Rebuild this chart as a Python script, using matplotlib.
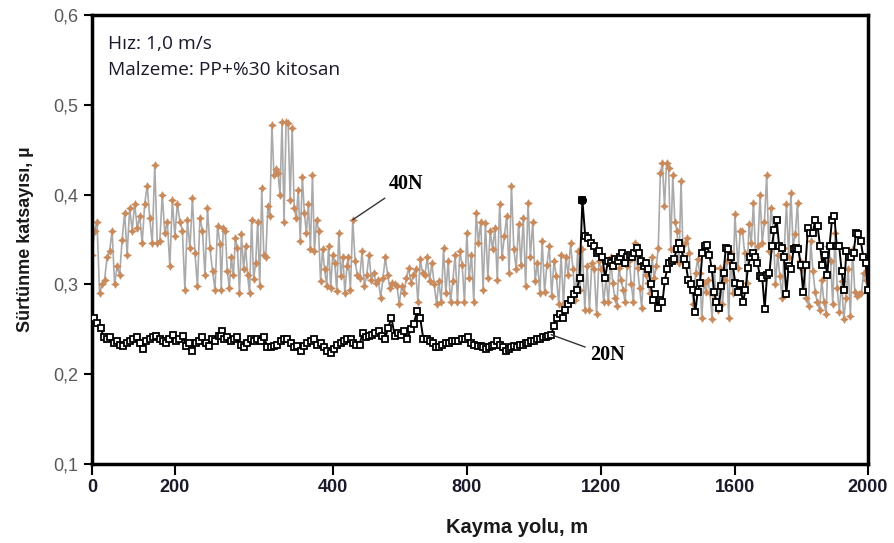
import numpy as np
import matplotlib
matplotlib.use("Agg")
import matplotlib.pyplot as plt

# Friction coefficient vs sliding distance, PP + 30% chitosan at 1.0 m/s

# 40N run, six consecutive stretches of the test (values of mu)
mu40_a = [0.333, 0.360, 0.370, 0.290, 0.300, 0.305, 0.330, 0.337, 0.360, 0.300,
          0.320, 0.310, 0.350, 0.380, 0.333, 0.385, 0.360, 0.390, 0.363, 0.376,
          0.346, 0.390, 0.410, 0.374, 0.346, 0.433, 0.346, 0.348, 0.400, 0.357,
          0.370, 0.320, 0.394, 0.354, 0.390, 0.370, 0.360, 0.294, 0.372, 0.340,
          0.396, 0.335, 0.298, 0.374, 0.360, 0.310, 0.385, 0.340, 0.315, 0.294,
          0.365, 0.345]
mu40_b = [0.294, 0.363, 0.360, 0.315, 0.296, 0.330, 0.310, 0.352, 0.340, 0.290,
          0.356, 0.317, 0.343, 0.310, 0.290, 0.372, 0.306, 0.324, 0.370, 0.298,
          0.407, 0.333, 0.331, 0.387, 0.376, 0.478, 0.422, 0.428, 0.424, 0.400,
          0.481, 0.370, 0.481, 0.480, 0.394, 0.474, 0.385, 0.374, 0.405, 0.348,
          0.420, 0.380, 0.357, 0.390, 0.339, 0.422, 0.337, 0.372, 0.360, 0.304,
          0.339, 0.317, 0.298, 0.343, 0.296, 0.333, 0.324, 0.293, 0.357, 0.309,
          0.331, 0.290, 0.320]
mu40_c = [0.330, 0.294, 0.372, 0.326, 0.310, 0.307, 0.337, 0.298, 0.310, 0.333,
          0.305, 0.313, 0.302, 0.305, 0.285, 0.307, 0.330, 0.310, 0.296, 0.302,
          0.300, 0.298, 0.278, 0.298, 0.290, 0.307, 0.318, 0.302, 0.310, 0.317,
          0.280, 0.328, 0.313, 0.310, 0.330, 0.304, 0.324, 0.300, 0.278, 0.304,
          0.280, 0.340, 0.290, 0.326, 0.280, 0.304, 0.333, 0.280, 0.337, 0.322,
          0.280, 0.357, 0.307, 0.333, 0.280, 0.380, 0.346, 0.370]
mu40_d = [0.294, 0.368, 0.307, 0.360, 0.339, 0.363, 0.305, 0.390, 0.330, 0.354,
          0.376, 0.313, 0.410, 0.339, 0.317, 0.367, 0.322, 0.374, 0.298, 0.391,
          0.331, 0.370, 0.304, 0.324, 0.290, 0.348, 0.292, 0.322, 0.343, 0.287,
          0.326, 0.309, 0.278, 0.333, 0.278, 0.331, 0.310, 0.346, 0.317, 0.283,
          0.337, 0.294, 0.339, 0.272, 0.320, 0.272, 0.324, 0.317, 0.267, 0.326,
          0.317, 0.280, 0.307, 0.280, 0.330]
mu40_e = [0.302, 0.285, 0.276, 0.318, 0.305, 0.294, 0.280, 0.320, 0.326, 0.300,
          0.280, 0.346, 0.318, 0.296, 0.274, 0.320, 0.310, 0.302, 0.290, 0.331,
          0.307, 0.320, 0.340, 0.424, 0.435, 0.387, 0.435, 0.430, 0.339, 0.422,
          0.370, 0.360, 0.324, 0.415, 0.331, 0.346, 0.352, 0.335, 0.298, 0.278,
          0.313, 0.328, 0.313, 0.263, 0.302, 0.292, 0.305, 0.290, 0.261, 0.318,
          0.280, 0.272, 0.318, 0.278, 0.305, 0.326, 0.263, 0.335, 0.290, 0.378]
mu40_f = [0.318, 0.360, 0.360, 0.335, 0.302, 0.367, 0.346, 0.391, 0.331, 0.343,
          0.400, 0.346, 0.370, 0.422, 0.337, 0.385, 0.361, 0.300, 0.333, 0.309,
          0.285, 0.340, 0.389, 0.330, 0.402, 0.343, 0.356, 0.391, 0.326, 0.317,
          0.320, 0.285, 0.276, 0.348, 0.315, 0.292, 0.280, 0.272, 0.305, 0.280,
          0.267, 0.343, 0.326, 0.278, 0.357, 0.296, 0.269, 0.304, 0.261, 0.285,
          0.317, 0.265, 0.339, 0.292, 0.287, 0.289, 0.290, 0.313, 0.305, 0.292]
# start / end distance (m) of each stretch
span40 = [(0, 330), (333, 657), (660, 1002), (1008, 1337), (1342, 1657), (1665, 2000)]

# 20N run
mu20_a = [0.263, 0.257, 0.252, 0.241, 0.239, 0.241, 0.235, 0.237, 0.233, 0.231,
          0.235, 0.237, 0.239, 0.241, 0.235, 0.228, 0.237, 0.239, 0.241, 0.243,
          0.239, 0.237, 0.235, 0.239, 0.244, 0.237, 0.239, 0.243, 0.231, 0.235,
          0.226, 0.235, 0.237, 0.241, 0.235, 0.231, 0.239, 0.237, 0.243, 0.248]
mu20_b = [0.243, 0.239, 0.241, 0.237, 0.239, 0.241, 0.233, 0.230, 0.235, 0.239,
          0.237, 0.239, 0.237, 0.241, 0.230, 0.230, 0.231, 0.233, 0.237, 0.239,
          0.239, 0.235, 0.230, 0.231, 0.226, 0.231, 0.235, 0.237, 0.239, 0.233,
          0.235, 0.230, 0.226, 0.224, 0.228, 0.233, 0.235, 0.237, 0.239, 0.239]
mu20_c = [0.235, 0.233, 0.233, 0.246, 0.241, 0.243, 0.244, 0.246, 0.248, 0.243,
          0.239, 0.252, 0.263, 0.243, 0.246, 0.244, 0.248, 0.239, 0.250, 0.256,
          0.270, 0.263, 0.239, 0.239, 0.237, 0.235, 0.230, 0.230, 0.233, 0.235,
          0.235, 0.237, 0.237, 0.237, 0.239, 0.239, 0.241, 0.235, 0.233, 0.231,
          0.231]
mu20_d = [0.230, 0.228, 0.230, 0.231, 0.233, 0.237, 0.233, 0.230, 0.226, 0.228,
          0.230, 0.231, 0.230, 0.233, 0.233, 0.235, 0.235, 0.237, 0.237, 0.239,
          0.239, 0.241, 0.241, 0.243, 0.244, 0.254, 0.263, 0.267, 0.263, 0.272,
          0.278, 0.283, 0.289, 0.294, 0.307, 0.394, 0.354, 0.352, 0.346, 0.343,
          0.335, 0.337, 0.331, 0.307, 0.326, 0.324]
mu20_e = [0.320, 0.328, 0.326, 0.331, 0.335, 0.324, 0.331, 0.333, 0.330, 0.335,
          0.341, 0.335, 0.326, 0.320, 0.324, 0.317, 0.300, 0.283, 0.289, 0.274,
          0.283, 0.280, 0.304, 0.317, 0.324, 0.326, 0.328, 0.339, 0.346, 0.339,
          0.328, 0.322, 0.305, 0.300, 0.294, 0.269, 0.292, 0.302, 0.335, 0.343,
          0.344, 0.333, 0.317, 0.291, 0.280, 0.274, 0.298, 0.313, 0.341, 0.339,
          0.331, 0.320, 0.302, 0.292, 0.300]
mu20_f = [0.280, 0.294, 0.318, 0.331, 0.335, 0.331, 0.324, 0.309, 0.307, 0.273,
          0.311, 0.313, 0.343, 0.361, 0.372, 0.343, 0.341, 0.331, 0.289, 0.320,
          0.317, 0.339, 0.341, 0.339, 0.322, 0.292, 0.322, 0.363, 0.357, 0.357,
          0.372, 0.365, 0.343, 0.322, 0.333, 0.310, 0.343, 0.372, 0.376, 0.343,
          0.343, 0.315, 0.294, 0.337, 0.331, 0.330, 0.335, 0.357, 0.356, 0.348,
          0.331, 0.324, 0.294]
span20 = [(5, 335), (332, 667), (673, 1002), (1008, 1337), (1343, 1670), (1678, 2000)]

x_ticks = [0, 213, 620, 966, 1311, 1658, 2000]
x_ticklabels = ["0", "200", "400", "800", "1200", "1600", "2000"]
y_ticks = [0.1, 0.2, 0.3, 0.4, 0.5, 0.6]
y_ticklabels = ["0,1", "0,2", "0,3", "0,4", "0,5", "0,6"]


def join(chunks, spans):
    xs = [np.linspace(a, b, len(c)) for c, (a, b) in zip(chunks, spans)]
    return np.concatenate(xs), np.concatenate([np.asarray(c) for c in chunks])


x40, y40 = join([mu40_a, mu40_b, mu40_c, mu40_d, mu40_e, mu40_f], span40)
x20, y20 = join([mu20_a, mu20_b, mu20_c, mu20_d, mu20_e, mu20_f], span20)

fig = plt.figure(figsize=(8.95, 5.43), dpi=100)
ax = fig.add_axes([92 / 895, 1 - 464 / 543, 776 / 895, 449 / 543])

ax.plot(x40, y40, color="#aaaaaa", lw=1.2, marker=(4, 1, 0), ms=5.5,
        mfc="#c98a5c", mec="#c98a5c", mew=0.5, zorder=2)
ax.plot(x20, y20, color="black", lw=1.4, marker="s", ms=4.5,
        mfc="white", mec="black", mew=1.3, zorder=3)
# the single high reading of the 20N run is drawn filled
k = int(np.argmax(y20))
ax.plot(x20[k], y20[k], "o", color="black", ms=5.5, zorder=4)

ax.set_xlim(0, 2000)
ax.set_ylim(0.1, 0.6)
ax.set_xticks(x_ticks)
ax.set_xticklabels(x_ticklabels, fontsize=13, fontweight="bold", color="#1a1a2a",
                   family="Liberation Sans")
ax.set_yticks(y_ticks)
ax.set_yticklabels(y_ticklabels, fontsize=13, color="#595959", family="Liberation Sans")
ax.tick_params(axis="x", direction="out", length=8, width=1.5, pad=3)
ax.tick_params(axis="y", direction="out", length=6, width=1.5, pad=4)
for s in ax.spines.values():
    s.set_linewidth(2.5)

ax.set_xlabel("Kayma yolu, m", fontsize=14.5, fontweight="bold", color="#1a1a1a",
              family="Liberation Sans")
ax.xaxis.set_label_coords(0.548, -0.12)
ax.set_ylabel("Sürtünme katsayısı, µ", fontsize=13, fontweight="bold",
              color="#1a1a1a", family="Liberation Sans", labelpad=14)

ax.text(0.021, 0.935, "Hız: 1,0 m/s", transform=ax.transAxes, fontsize=13.8,
        family="Open Sans", color="#1a1a2a", va="center")
ax.text(0.021, 0.878, "Malzeme: PP+%30 kitosan", transform=ax.transAxes,
        fontsize=13.8, family="Open Sans", color="#1a1a2a", va="center")

# series labels with leader lines
i40 = len(mu40_a) + len(mu40_b) + 2
ax.annotate("40N", xy=(x40[i40], y40[i40]), xytext=(765, 0.412),
            fontsize=14.5, fontweight="bold", family="Liberation Serif",
            va="center", ha="left",
            arrowprops=dict(arrowstyle="-", color="#333333", lw=1.0,
                            shrinkA=2, shrinkB=0))
i20 = len(mu20_a) + len(mu20_b) + len(mu20_c) + 24
ax.annotate("20N", xy=(x20[i20], y20[i20]), xytext=(1285, 0.221),
            fontsize=14.5, fontweight="bold", family="Liberation Serif",
            va="center", ha="left",
            arrowprops=dict(arrowstyle="-", color="#333333", lw=1.0,
                            shrinkA=2, shrinkB=0))

fig.savefig("out.png", dpi=100)
